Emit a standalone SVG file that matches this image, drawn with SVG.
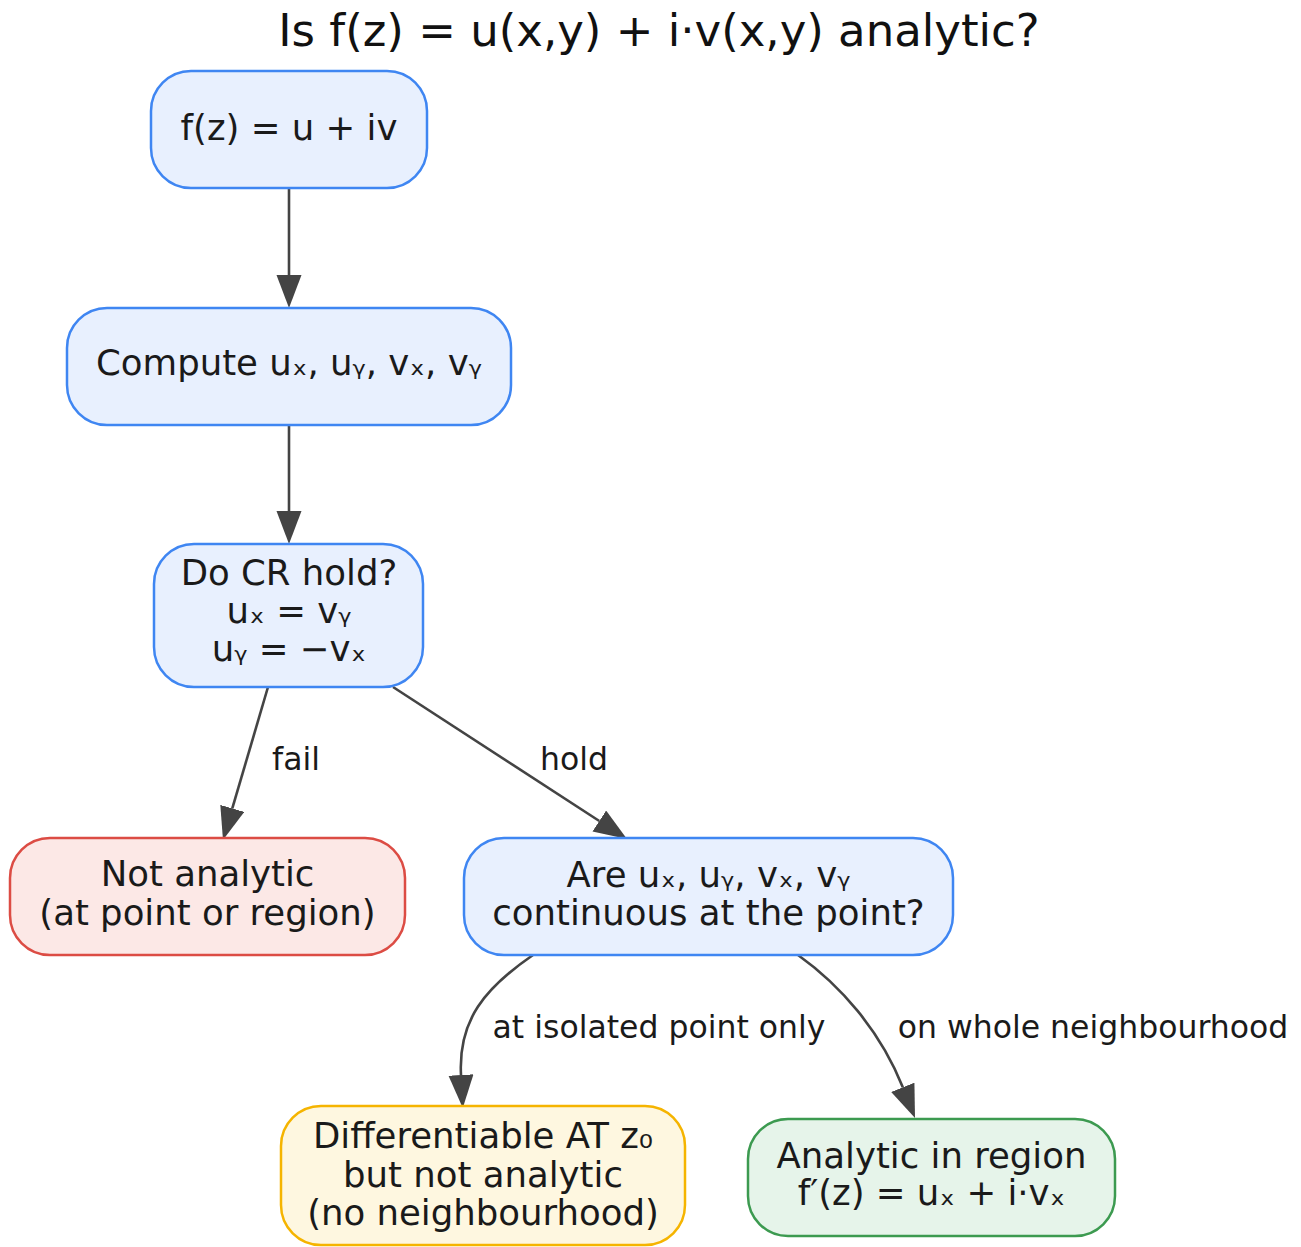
<svg xmlns="http://www.w3.org/2000/svg" width="1301" height="1247" viewBox="0 0 1301 1247">
<style>
  .nb { fill: #e8f0fe; stroke: #3f86f2; stroke-width: 2.5; }
  .nr { fill: #fce8e6; stroke: #dc4c44; stroke-width: 2.5; }
  .ny { fill: #fef7e0; stroke: #f5b400; stroke-width: 2.5; }
  .ng { fill: #e6f4ea; stroke: #3c9a50; stroke-width: 2.5; }
  .nt { font-family: "DejaVu Sans", "Liberation Sans", sans-serif; font-size: 35.5px; fill: #1a1a1a; text-anchor: middle; }
  .et { font-family: "DejaVu Sans", "Liberation Sans", sans-serif; font-size: 31.5px; fill: #1a1a1a; text-anchor: middle; }
  .title { font-family: "DejaVu Sans", "Liberation Sans", sans-serif; font-size: 45px; fill: #111; text-anchor: middle; }
  .edge { fill: none; stroke: #444; stroke-width: 2.6; }
</style>
<defs>
  <marker id="arr" markerUnits="userSpaceOnUse" markerWidth="34" markerHeight="26" refX="0" refY="12.5" orient="auto">
    <path d="M0,0 L33,12.5 L0,25 z" fill="#444"/>
  </marker>
</defs>
<rect width="1301" height="1247" fill="#ffffff"/>
<text class="title" x="659" y="46">Is f(z) = u(x,y) + i·v(x,y) analytic?</text>

<g id="connectors">
  <path class="edge" d="M289,188 L289,275" marker-end="url(#arr)"/>
  <path class="edge" d="M289,425 L289,511" marker-end="url(#arr)"/>
  <path class="edge" d="M268,687 L232.3,808.4" marker-end="url(#arr)"/>
  <path class="edge" d="M393,687 L599.3,821" marker-end="url(#arr)"/>
  <path class="edge" d="M533,955 C485,988 458,1020 461,1075" marker-end="url(#arr)"/>
  <path class="edge" d="M798,955 C840,985 880,1030 902.8,1087.3" marker-end="url(#arr)"/>
  <text class="et" x="296" y="770">fail</text>
  <text class="et" x="574" y="770">hold</text>
  <text class="et" x="659" y="1038">at isolated point only</text>
  <text class="et" x="1093" y="1038">on whole neighbourhood</text>
</g>

<g id="n1">
  <rect class="nb" x="151" y="71" width="276" height="117" rx="40"/>
  <text class="nt" x="289" y="140">f(z) = u + iv</text>
</g>
<g id="n2">
  <rect class="nb" x="67" y="308" width="444" height="117" rx="40"/>
  <text class="nt" x="289" y="375">Compute uₓ, uᵧ, vₓ, vᵧ</text>
</g>
<g id="n3">
  <rect class="nb" x="154" y="544" width="269" height="143" rx="40"/>
  <text class="nt" x="289" y="585">Do CR hold?</text>
  <text class="nt" x="289" y="623">uₓ = vᵧ</text>
  <text class="nt" x="289" y="661">uᵧ = −vₓ</text>
</g>
<g id="n4">
  <rect class="nr" x="10" y="838" width="395" height="117" rx="40"/>
  <text class="nt" x="207.5" y="886">Not analytic</text>
  <text class="nt" x="207.5" y="925">(at point or region)</text>
</g>
<g id="n5">
  <rect class="nb" x="464" y="838" width="489" height="117" rx="40"/>
  <text class="nt" x="708.5" y="887">Are uₓ, uᵧ, vₓ, vᵧ</text>
  <text class="nt" x="708.5" y="925">continuous at the point?</text>
</g>
<g id="n6">
  <rect class="ny" x="281" y="1106" width="404" height="139" rx="40"/>
  <text class="nt" x="483" y="1148">Differentiable AT z₀</text>
  <text class="nt" x="483" y="1187">but not analytic</text>
  <text class="nt" x="483" y="1225">(no neighbourhood)</text>
</g>
<g id="n7">
  <rect class="ng" x="748" y="1119" width="367" height="117" rx="40"/>
  <text class="nt" x="931.5" y="1168">Analytic in region</text>
  <text class="nt" x="931.5" y="1205">f′(z) = uₓ + i·vₓ</text>
</g>
</svg>
